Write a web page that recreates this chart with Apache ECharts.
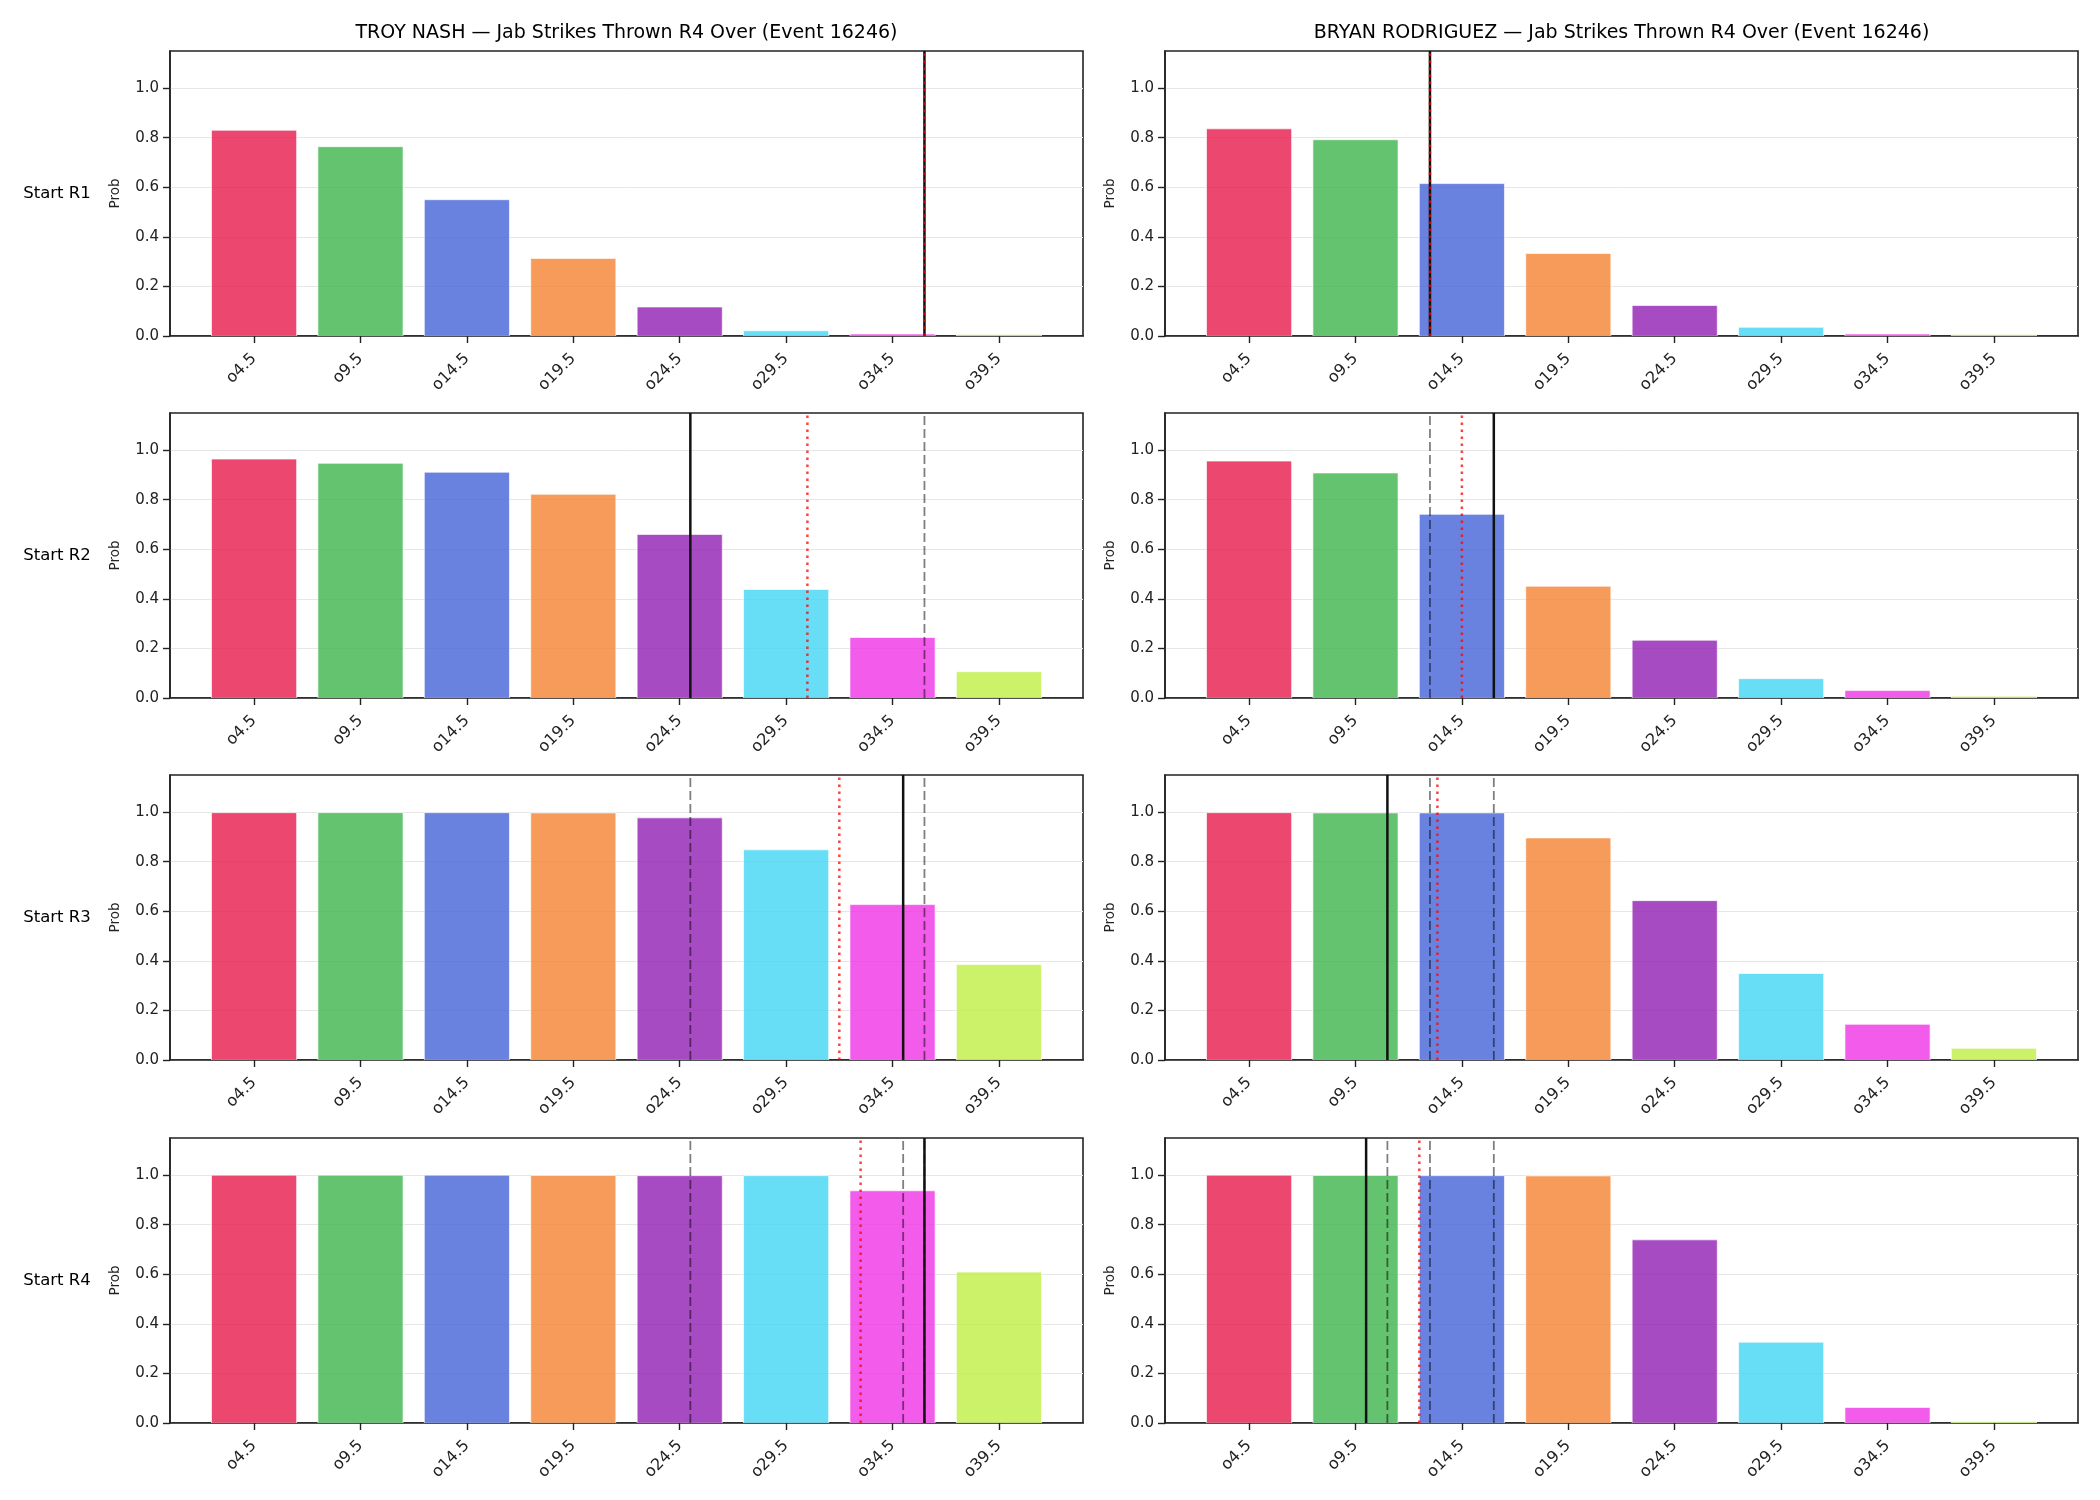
<!DOCTYPE html>
<html>
<head>
<meta charset="utf-8">
<title>Jab Strikes Thrown R4 Over (Event 16246)</title>
<script src="https://cdn.jsdelivr.net/npm/echarts@6.0.0/dist/echarts.min.js"></script>
<style>
  html, body { margin: 0; padding: 0; background: #fff; }
  #chart { width: 2100px; height: 1500px; }
</style>
</head>
<body>
<div id="chart"></div>
<script>
var categories = ['o4.5', 'o9.5', 'o14.5', 'o19.5', 'o24.5', 'o29.5', 'o34.5', 'o39.5'];
var fighters = ['TROY NASH', 'BRYAN RODRIGUEZ'];
var rowLabels = ['Start R1', 'Start R2', 'Start R3', 'Start R4'];
var yTicks = [0, 0.2, 0.4, 0.6, 0.8, 1.0];
var barColors = ['#e6194b', '#3cb44b', '#4363d8', '#f58231', '#911eb4', '#42d4f4', '#f032e6', '#bfef45'];

// over probabilities, one array per start round
var nashR1 = [0.830, 0.764, 0.550, 0.313, 0.117, 0.021, 0.008, 0.006];
var nashR2 = [0.964, 0.947, 0.911, 0.822, 0.660, 0.438, 0.244, 0.106];
var nashR3 = [0.998, 0.998, 0.998, 0.997, 0.977, 0.848, 0.627, 0.385];
var nashR4 = [1.000, 1.000, 1.000, 0.999, 0.998, 0.998, 0.937, 0.609];

var rodriguezR1 = [0.836, 0.792, 0.615, 0.333, 0.123, 0.035, 0.008, 0.006];
var rodriguezR2 = [0.956, 0.908, 0.741, 0.451, 0.233, 0.078, 0.030, 0.007];
var rodriguezR3 = [0.998, 0.997, 0.997, 0.896, 0.643, 0.349, 0.144, 0.047];
var rodriguezR4 = [1.000, 0.999, 0.998, 0.997, 0.739, 0.326, 0.063, 0.005];

// vertical markers, in category units (0 = o4.5)
var nashProj = [6.3, 4.1, 6.1, 6.3];          // solid black
var nashMarket = [6.3, 5.2, 5.5, 5.7];        // red dotted
var nashPrev = [[], [6.3], [4.1, 6.3], [4.1, 6.1, 6.3]];   // grey dashed
var rodriguezProj = [1.7, 2.3, 1.3, 1.1];
var rodriguezMarket = [1.7, 2.0, 1.77, 1.6];
var rodriguezPrev = [[], [1.7], [1.7, 2.3], [1.3, 1.7, 2.3]];

var probs = [
  [nashR1, nashR2, nashR3, nashR4],
  [rodriguezR1, rodriguezR2, rodriguezR3, rodriguezR4]
];
var projLines = [nashProj, rodriguezProj];
var marketLines = [nashMarket, rodriguezMarket];
var prevLines = [nashPrev, rodriguezPrev];

var FONT = 'DejaVu Sans';
var gridLeft = [170, 1165];
var gridTop = [51, 413, 775, 1138];
var gridW = 913, gridH = 285;
var xMin = -0.79, xMax = 7.79, yMax = 1.15;

var chart = echarts.init(document.getElementById('chart'));

function renderBar (params, api) {
  var i = api.value(0)
  var v = api.value(1)
  var p0 = api.coord([i - 0.4, v])
  var p1 = api.coord([i + 0.4, 0])
  return {
    type: 'rect',
    shape: { x: p0[0], y: p0[1], width: p1[0] - p0[0], height: p1[1] - p0[1] },
    style: { fill: barColors[params.dataIndex], opacity: 0.8, stroke: '#ffffff', lineWidth: 0.8 }
  }
}

function vline (g, x, style, z) {
  return {
    type: 'line',
    xAxisIndex: g,
    yAxisIndex: g,
    data: [[x, 0], [x, yMax]],
    symbol: 'none',
    silent: true,
    z: z,
    lineStyle: style
  }
}

var grids = [], xAxes = [], yAxes = [], series = [], graphics = [];
var catIdx = categories.map(function (c, i) { return i });

for (var r = 0; r < 4; r++) {
  for (var c = 0; c < 2; c++) {
    var g = xAxes.length;
    grids.push({
      left: gridLeft[c], top: gridTop[r], width: gridW, height: gridH,
      show: true, borderColor: '#222', borderWidth: 1.6, backgroundColor: 'transparent'
    });
    xAxes.push({
      type: 'value', gridIndex: g, min: xMin, max: xMax,
      axisLine: { show: true, onZero: false, lineStyle: { color: '#222', width: 1.6 } },
      axisTick: { show: true, customValues: catIdx, length: 7, lineStyle: { color: '#222', width: 1.4 } },
      axisLabel: {
        customValues: catIdx, rotate: 45, margin: 20,
        fontSize: 16, fontFamily: FONT, color: '#222',
        formatter: function (v) { return categories[Math.round(v)] }
      },
      splitLine: { show: false }
    });
    yAxes.push({
      type: 'value', gridIndex: g, min: 0, max: yMax, interval: 0.2,
      name: 'Prob', nameLocation: 'middle', nameGap: 48,
      nameTextStyle: { fontSize: 13.5, fontFamily: FONT, color: '#222' },
      axisLine: { show: true, onZero: false, lineStyle: { color: '#222', width: 1.6 } },
      axisTick: { show: true, customValues: yTicks, length: 7, lineStyle: { color: '#222', width: 1.4 } },
      axisLabel: {
        customValues: yTicks, margin: 11,
        fontSize: 15, fontFamily: FONT, color: '#222',
        formatter: function (v) { return v.toFixed(1) }
      },
      splitLine: { show: true, lineStyle: { color: '#e6e6e6', width: 1 } }
    });

    series.push({
      type: 'custom', xAxisIndex: g, yAxisIndex: g,
      renderItem: renderBar, clip: true, z: 2,
      encode: { x: 0, y: 1 },
      data: probs[c][r].map(function (v, i) { return [i, v] })
    });
    prevLines[c][r].forEach(function (x) {
      series.push(vline(g, x, { color: 'rgba(0,0,0,0.5)', width: 1.8, type: [9, 4] }, 3));
    });
    series.push(vline(g, projLines[c][r], { color: '#111', width: 2.5, type: 'solid' }, 4));
    series.push(vline(g, marketLines[c][r], { color: 'rgba(255,0,0,0.75)', width: 2.5, type: [2.6, 4.4] }, 5));
  }
  graphics.push({
    type: 'text', x: 57, y: gridTop[r] + gridH / 2,
    style: { text: rowLabels[r], fontSize: 16.5, fontFamily: FONT, fill: '#000', align: 'center', verticalAlign: 'middle' }
  });
}

fighters.forEach(function (name, c) {
  graphics.push({
    type: 'text', x: gridLeft[c] + gridW / 2, y: 33,
    style: {
      text: name + ' \u2014 Jab Strikes Thrown R4 Over (Event 16246)',
      fontSize: 19, fontFamily: FONT, fill: '#000', align: 'center', verticalAlign: 'middle'
    }
  });
});

chart.setOption({
  animation: false,
  backgroundColor: '#fff',
  grid: grids,
  xAxis: xAxes,
  yAxis: yAxes,
  series: series,
  graphic: graphics
});
</script>
</body>
</html>
